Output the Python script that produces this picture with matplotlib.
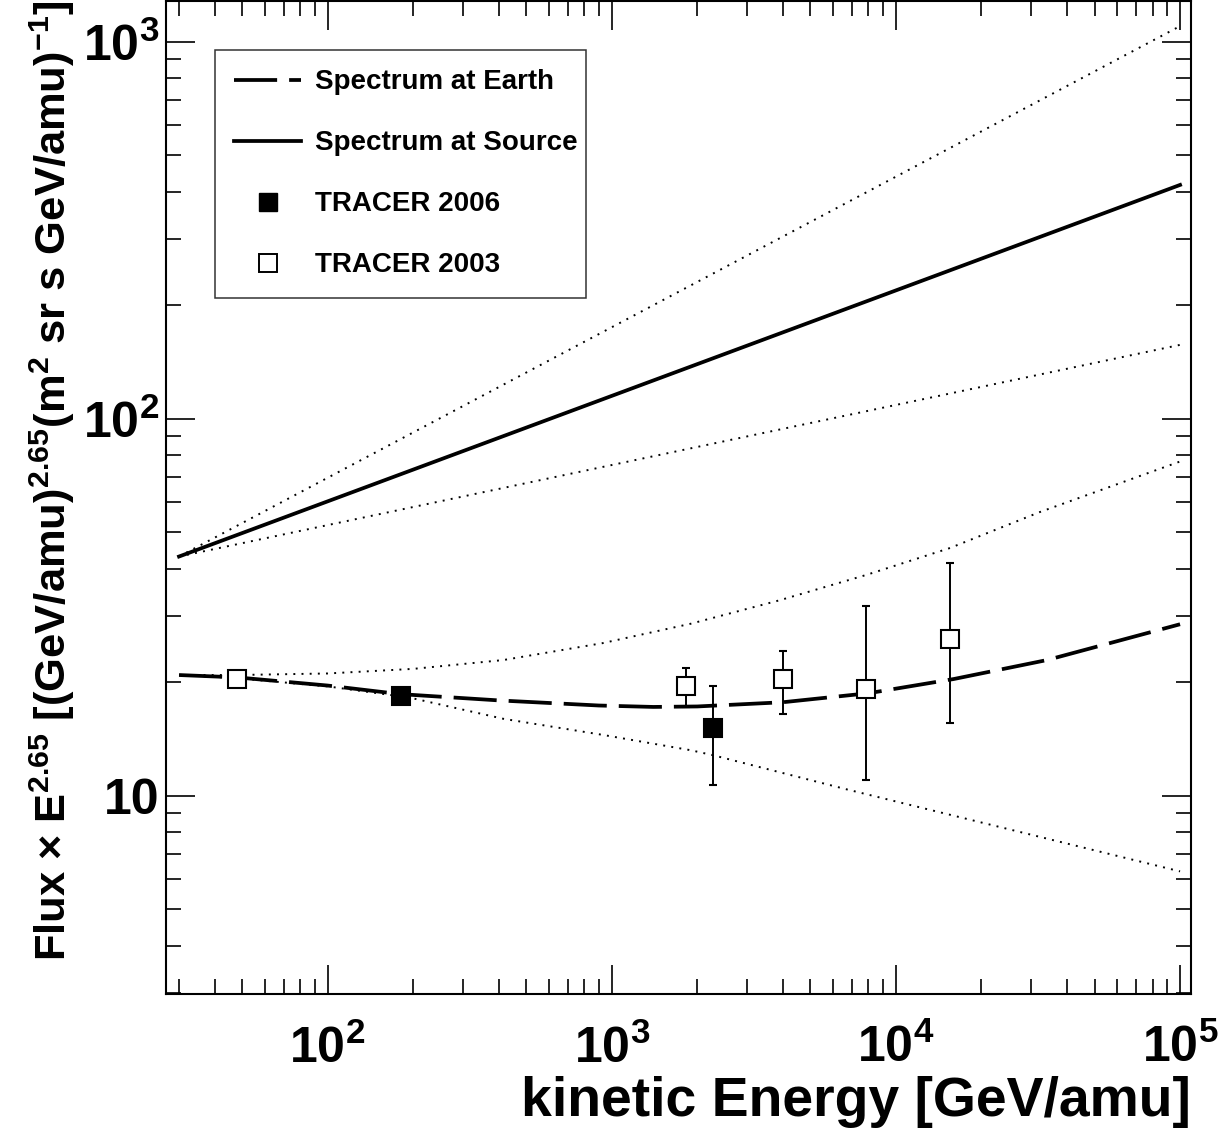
import numpy as np
import matplotlib
matplotlib.use('Agg')
import matplotlib.pyplot as plt
from matplotlib.lines import Line2D
from matplotlib.ticker import FixedLocator, FixedFormatter, LogLocator, NullFormatter

# bold helvetica look
plt.rcParams['font.family'] = ['Liberation Sans', 'DejaVu Sans']
plt.rcParams['font.weight'] = 'bold'
plt.rcParams['axes.labelweight'] = 'bold'
plt.rcParams['mathtext.default'] = 'regular'

# spectra
e_source = [30, 1e5]
f_source = [43.1, 417]
e_source_hi = [30, 1e5]
f_source_hi = [43.1, 1100]
e_source_lo = [30, 1e5]
f_source_lo = [43.1, 157]

e_earth = [30, 48, 100, 180, 400, 900, 1400, 2000, 4000, 8000, 16000, 34000, 1e5]
f_earth = [20.9, 20.6, 19.6, 18.6, 17.9, 17.35, 17.2, 17.25, 17.7, 18.7, 20.4, 22.9, 28.5]
e_earth_hi = [30, 48, 100, 200, 415, 930, 1900, 3900, 7850, 15500, 32000, 1e5]
f_earth_hi = [20.9, 20.9, 21.1, 21.7, 22.9, 25.4, 28.6, 33.0, 38.5, 45.4, 56.5, 77]
e_earth_lo = [30, 48, 100, 195, 415, 930, 1900, 2280, 6700, 25800, 1e5]
f_earth_lo = [20.9, 20.5, 19.5, 18.2, 16.0, 14.5, 13.2, 12.8, 10.4, 8.1, 6.3]

# TRACER data points
e_tracer03 = [48, 1830, 4000, 7850, 15500]
f_tracer03 = [20.4, 19.5, 20.4, 19.2, 26.0]
lo_tracer03 = [20.4, 17.2, 16.5, 11.0, 15.6]
hi_tracer03 = [20.4, 21.8, 24.2, 31.9, 41.4]

e_tracer06 = [181, 2280]
f_tracer06 = [18.4, 15.1]
lo_tracer06 = [18.4, 10.7]
hi_tracer06 = [18.4, 19.5]

x_ticks = [1e2, 1e3, 1e4, 1e5]
x_ticklabels = ['$10^{2}$', '$10^{3}$', '$10^{4}$', '$10^{5}$']
y_ticks = [10, 1e2, 1e3]
y_ticklabels = ['10', '$10^{2}$', '$10^{3}$']

fig = plt.figure(figsize=(12.28, 11.34), dpi=100)
ax = fig.add_axes([0.1352, 0.1235, 0.8347, 0.8757])
ax.set_xscale('log')
ax.set_yscale('log')

dotted = (0, (1, 3.2))
longdash = (0, (11.5, 3.2))

ax.plot(e_source_hi, f_source_hi, color='k', lw=1.4, linestyle=dotted, zorder=2)
ax.plot(e_source_lo, f_source_lo, color='k', lw=1.4, linestyle=dotted, zorder=2)
ax.plot(e_earth_hi, f_earth_hi, color='k', lw=1.4, linestyle=dotted, zorder=2)
ax.plot(e_earth_lo, f_earth_lo, color='k', lw=1.4, linestyle=dotted, zorder=2)
ax.plot(e_source, f_source, color='k', lw=2.7, zorder=3)
ax.plot(e_earth, f_earth, color='k', lw=2.7, linestyle=longdash, zorder=3)

f03 = np.array(f_tracer03)
err03 = [f03 - np.array(lo_tracer03), np.array(hi_tracer03) - f03]
ax.errorbar(e_tracer03, f03, yerr=err03, fmt='s', color='k', mfc='white', mec='k',
            ms=13.5, mew=1.5, elinewidth=1.4, capsize=3, capthick=1.4, zorder=4)
f06 = np.array(f_tracer06)
err06 = [f06 - np.array(lo_tracer06), np.array(hi_tracer06) - f06]
ax.errorbar(e_tracer06, f06, yerr=err06, fmt='s', color='k', mfc='k', mec='k',
            ms=13.5, mew=1.5, elinewidth=1.4, capsize=3, capthick=1.4, zorder=4)

ax.set_xlim(27, 1.093e5)
ax.set_ylim(2.98, 1283)

ax.xaxis.set_major_locator(FixedLocator(x_ticks))
ax.xaxis.set_major_formatter(FixedFormatter(x_ticklabels))
ax.yaxis.set_major_locator(FixedLocator(y_ticks))
ax.yaxis.set_major_formatter(FixedFormatter(y_ticklabels))
ax.xaxis.set_minor_locator(LogLocator(base=10, subs=np.arange(2, 10), numticks=20))
ax.yaxis.set_minor_locator(LogLocator(base=10, subs=np.arange(2, 10), numticks=20))
ax.xaxis.set_minor_formatter(NullFormatter())
ax.yaxis.set_minor_formatter(NullFormatter())

ax.tick_params(which='both', direction='in', top=True, right=True, width=1.2)
ax.tick_params(which='major', length=21)
ax.tick_params(which='minor', length=11)
ax.tick_params(axis='x', which='major', labelsize=36, pad=22)
ax.tick_params(axis='y', which='major', labelsize=36, pad=5)
for sp in ax.spines.values():
    sp.set_linewidth(1.5)

ax.set_xlabel('kinetic Energy [GeV/amu]', fontsize=39.9, fontweight='bold', loc='right')
ax.xaxis.label.set_va('baseline')
ax.xaxis.set_label_coords(1.0, -0.1229)
ax.set_ylabel('Flux × E$^{2.65}$ [(GeV/amu)$^{2.65}$(m$^{2}$ sr s GeV/amu)$^{-1}$]',
              fontsize=31.3, fontweight='bold', loc='top')
ax.yaxis.label.set_va('baseline')
ax.yaxis.set_label_coords(-0.0976, 1.0)

handles = [
    Line2D([], [], color='k', lw=2.7, linestyle=longdash),
    Line2D([], [], color='k', lw=2.7),
    Line2D([], [], color='k', marker='s', linestyle='none', ms=12.5, mfc='k'),
    Line2D([], [], color='k', marker='s', linestyle='none', ms=12.5, mfc='white', mew=1.4),
]
labels = ['Spectrum at Earth', 'Spectrum at Source', 'TRACER 2006', 'TRACER 2003']
leg = ax.legend(handles, labels, loc='upper left', bbox_to_anchor=(0.0478, 0.701, 0.362, 0.2497),
                mode='expand', borderaxespad=0, frameon=True, fancybox=False, edgecolor='k',
                prop={'family': ['Liberation Sans', 'DejaVu Sans'], 'weight': 'bold', 'size': 20},
                handlelength=2.4, handletextpad=0.5, labelspacing=1.26, borderpad=0.7)
leg.get_frame().set_linewidth(1.1)

fig.savefig('out.png', dpi=100)
